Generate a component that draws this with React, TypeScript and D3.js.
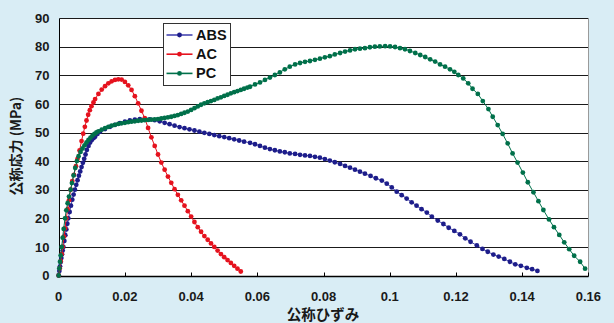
import React from 'react';
import * as d3 from 'd3';

// axis ticks
const xTicks = [0, 0.02, 0.04, 0.06, 0.08, 0.1, 0.12, 0.14, 0.16];
const yTicks = [0, 10, 20, 30, 40, 50, 60, 70, 80, 90];

const seriesNames = ['ABS', 'AC', 'PC'];

// [nominal strain, nominal stress (MPa)]
const absData: [number, number][] = [
  [0, 0], [0.0002, 1.6], [0.0004, 3.2], [0.0006, 4.7], [0.0008, 6.1], [0.001, 7.4], [0.0012, 8.7],
  [0.0014, 10], [0.0017, 12.1], [0.002, 14.1], [0.0023, 16.1], [0.0026, 18.1], [0.0029, 20],
  [0.0033, 22.2], [0.0037, 24.4], [0.0041, 26.5], [0.0045, 28.3], [0.0049, 30], [0.0053, 31.7],
  [0.0057, 33.3], [0.0061, 34.9], [0.0065, 36.4], [0.0069, 37.9], [0.0073, 39.4], [0.0077, 40.8],
  [0.0081, 42.3], [0.0085, 43.9], [0.009, 45.3], [0.0095, 46.5], [0.01, 47.4], [0.0105, 48],
  [0.011, 48.5], [0.0117, 49.5], [0.0125, 50.3], [0.014, 51.2], [0.0155, 52], [0.017, 52.7],
  [0.0185, 53.3], [0.02, 53.8], [0.0215, 54.2], [0.023, 54.5], [0.0245, 54.7], [0.026, 54.7],
  [0.0275, 54.6], [0.029, 54.3], [0.0305, 53.9], [0.032, 53.4], [0.0335, 52.9], [0.035, 52.4],
  [0.0365, 51.9], [0.038, 51.5], [0.0395, 51.1], [0.041, 50.7], [0.0425, 50.3], [0.044, 49.9],
  [0.0455, 49.5], [0.047, 49.1], [0.0485, 48.7], [0.05, 48.4], [0.0515, 48], [0.053, 47.6],
  [0.0545, 47.2], [0.056, 46.8], [0.0578, 46.4], [0.0593, 45.9], [0.0608, 45.3], [0.0623, 44.7],
  [0.0638, 44.2], [0.0653, 43.8], [0.0668, 43.4], [0.0683, 43.1], [0.0698, 42.7], [0.0714, 42.5],
  [0.0729, 42.2], [0.0744, 42], [0.0759, 41.8], [0.0774, 41.5], [0.0789, 41.2], [0.0804, 40.7],
  [0.0819, 40.2], [0.0834, 39.6], [0.085, 39], [0.0865, 38.3], [0.088, 37.7], [0.0895, 37],
  [0.091, 36.3], [0.0925, 35.6], [0.0942, 34.8], [0.0958, 34], [0.0976, 33.2], [0.0991, 32.1],
  [0.1006, 30.8], [0.1021, 29.3], [0.1036, 28.1], [0.1051, 26.9], [0.1066, 25.6], [0.1081, 24.4],
  [0.1096, 23.2], [0.1112, 22], [0.1127, 20.6], [0.1145, 19.2], [0.1162, 18], [0.1178, 16.7],
  [0.1195, 15.6], [0.1212, 14.4], [0.1228, 13], [0.1244, 11.8], [0.1263, 10.5], [0.128, 9.3],
  [0.1296, 8.3], [0.1313, 7.3], [0.1329, 6.6], [0.1346, 5.8], [0.1363, 4.8], [0.1379, 3.9],
  [0.1396, 3.4], [0.1414, 2.7], [0.143, 2.2], [0.1446, 1.6],
];

const acData: [number, number][] = [
  [0, 0], [0.0003, 2.5], [0.0006, 5], [0.0009, 7.5], [0.0012, 10], [0.0016, 13.6], [0.0019, 16.5],
  [0.0023, 20], [0.0027, 23.2], [0.0031, 26.3], [0.0036, 30], [0.0041, 33], [0.0046, 35.2],
  [0.0052, 38.2], [0.0057, 40.8], [0.0063, 43.7], [0.0069, 47], [0.0074, 49.6], [0.0079, 52],
  [0.0084, 54.2], [0.0089, 56.2], [0.0094, 57.8], [0.0099, 59.2], [0.0105, 60.5], [0.011, 61.7],
  [0.012, 63.5], [0.013, 65], [0.014, 66.2], [0.015, 67.2], [0.016, 67.9], [0.017, 68.4],
  [0.018, 68.6], [0.019, 68.5], [0.02, 67.7], [0.021, 66.5], [0.022, 64.9], [0.023, 62.7],
  [0.024, 60.2], [0.025, 57.6], [0.026, 55], [0.027, 51.6], [0.028, 48.3], [0.029, 45.3],
  [0.03, 42.3], [0.031, 39.5], [0.032, 37], [0.033, 34.6], [0.034, 32.4], [0.035, 30.2],
  [0.036, 28.2], [0.037, 26.3], [0.038, 24.4], [0.039, 22.5], [0.04, 20.6], [0.041, 18.7],
  [0.042, 16.9], [0.043, 15.3], [0.044, 13.8], [0.045, 12.5], [0.046, 11.2], [0.047, 10],
  [0.048, 8.7], [0.049, 7.5], [0.05, 6.4], [0.051, 5.4], [0.052, 4.4], [0.053, 3.4],
  [0.054, 2.4], [0.055, 1.4],
];

const pcData: [number, number][] = [
  [0, 0], [0.0002, 2.5], [0.0004, 4.8], [0.0006, 7], [0.0009, 10], [0.0012, 13.2], [0.0015, 16.3],
  [0.0019, 20], [0.0023, 22.8], [0.0027, 25.3], [0.0031, 27.6], [0.0036, 30], [0.004, 32.3],
  [0.0045, 35], [0.005, 37.6], [0.0055, 40], [0.006, 41.7], [0.0066, 43.2], [0.0072, 44.4],
  [0.0078, 45.5], [0.0084, 46.5], [0.009, 47.4], [0.0096, 48.2], [0.0102, 48.9], [0.0108, 49.5],
  [0.0114, 50], [0.012, 50.4], [0.013, 51], [0.014, 51.5], [0.015, 52], [0.016, 52.4],
  [0.017, 52.7], [0.018, 53], [0.019, 53.2], [0.02, 53.4], [0.021, 53.6], [0.022, 53.8],
  [0.023, 53.9], [0.024, 54.1], [0.025, 54.2], [0.026, 54.3], [0.027, 54.4], [0.028, 54.5],
  [0.029, 54.6], [0.03, 54.7], [0.031, 54.9], [0.032, 55.1], [0.033, 55.3], [0.034, 55.5],
  [0.035, 55.8], [0.036, 56.1], [0.037, 56.5], [0.038, 56.9], [0.039, 57.3], [0.04, 57.9],
  [0.041, 58.5], [0.042, 59.1], [0.043, 59.7], [0.044, 60.2], [0.045, 60.6], [0.046, 61],
  [0.047, 61.4], [0.048, 61.9], [0.049, 62.3], [0.05, 62.8], [0.051, 63.2], [0.052, 63.7],
  [0.053, 64.1], [0.054, 64.5], [0.055, 64.9], [0.056, 65.3], [0.057, 65.7], [0.0578, 66],
  [0.0593, 66.8], [0.0608, 67.5], [0.0623, 68.4], [0.0638, 69.2], [0.0653, 70.1], [0.0668, 71],
  [0.0683, 72.1], [0.0698, 73], [0.0714, 73.8], [0.0729, 74.3], [0.0744, 74.7], [0.0759, 75],
  [0.0774, 75.4], [0.0789, 75.8], [0.0804, 76.3], [0.0819, 76.7], [0.0834, 77.3], [0.085, 77.8],
  [0.0865, 78.3], [0.088, 78.7], [0.0895, 79.1], [0.091, 79.3], [0.0925, 79.5], [0.094, 79.8],
  [0.0955, 80], [0.097, 80.1], [0.0986, 80.2], [0.1001, 80.1], [0.1016, 79.9], [0.1031, 79.5],
  [0.1046, 79.1], [0.1061, 78.5], [0.1077, 77.8], [0.1092, 77.1], [0.1107, 76.4], [0.1122, 75.6],
  [0.1137, 74.8], [0.1152, 73.8], [0.1167, 73], [0.1182, 72.1], [0.1195, 71.2], [0.1207, 70.1],
  [0.1222, 68.9], [0.1237, 67.2], [0.125, 65.3], [0.1266, 63.5], [0.1281, 61], [0.1298, 58.2],
  [0.1311, 55.5], [0.1326, 52.6], [0.1341, 49.5], [0.1356, 46.2], [0.1371, 42.7], [0.1386, 39.5],
  [0.1402, 36], [0.1417, 32.6], [0.1434, 29.1], [0.1449, 26], [0.1464, 22.9], [0.1481, 19.6],
  [0.1496, 16.9], [0.1512, 14.2], [0.1527, 11.6], [0.1542, 9.2], [0.1557, 6.9], [0.1575, 4.8],
  [0.159, 2.4],
];

const markerColors = ['#1d1d8a', '#e5121e', '#00704a'];
const lineColors = ['#4646b0', '#e5121e', '#00704a'];

const W = 614;
const H = 323;
const plot = { left: 58.7, right: 588.4, top: 18.1, bottom: 275.5 };
const numFont = '"Liberation Sans", Arial, sans-serif';
const jpFont = '"Noto Sans CJK JP", "Liberation Sans", sans-serif';

const App = () => {
  const x = d3.scaleLinear().domain([0, 0.16]).range([plot.left, plot.right]);
  const y = d3.scaleLinear().domain([0, 90]).range([plot.bottom, plot.top]);
  const crisp = (v: number) => Math.round(v) + 0.5;

  const series = [absData, acData, pcData].map((data, i) => ({
    name: seriesNames[i],
    data,
    marker: markerColors[i],
    line: lineColors[i],
  }));

  const lineGen = d3.line<[number, number]>()
    .x(d => x(d[0]))
    .y(d => y(d[1]));

  const x0 = crisp(x(0));
  const x1 = crisp(x(0.16));
  const yb = crisp(y(0));
  const yt = crisp(y(90));

  return (
    <div style={{ position: 'absolute', left: 0, top: 0 }}>
      <svg width={W} height={H} style={{ display: 'block' }}>
        <rect x={0} y={0} width={W} height={H} fill="#d9edf5" />
        <rect x={x0} y={yt} width={x1 - x0} height={yb - yt} fill="#ffffff" />

        {/* gridlines */}
        {yTicks.filter(t => t > 0).map(t => (
          <line key={t} x1={x0} x2={x1} y1={crisp(y(t))} y2={crisp(y(t))} stroke="#1a1a1a" strokeWidth={1} />
        ))}
        <line x1={x1} x2={x1} y1={yt} y2={yb} stroke="#9a9a9a" strokeWidth={1} />

        {/* axes */}
        <line x1={x0} x2={x0} y1={yt} y2={yb} stroke="#000" strokeWidth={1} />
        <line x1={x0} x2={x1} y1={yb} y2={yb} stroke="#000" strokeWidth={1.3} />
        {xTicks.map(t => (
          <line key={t} x1={crisp(x(t))} x2={crisp(x(t))} y1={yb} y2={yb - 4} stroke="#000" strokeWidth={1} />
        ))}

        {/* tick labels */}
        {yTicks.map(t => (
          <text key={t} x={49.5} y={y(t) + 4.6} textAnchor="end" fontFamily={numFont} fontWeight="bold"
            fontSize={13} fill="#1a1a1a">{t}</text>
        ))}
        {xTicks.map(t => (
          <text key={t} x={x(t)} y={301} textAnchor="middle" fontFamily={numFont} fontWeight="bold"
            fontSize={13} fill="#1a1a1a">{d3.format('~g')(t)}</text>
        ))}

        {/* axis titles */}
        <text x={323} y={320} textAnchor="middle" fontFamily={jpFont} fontWeight="bold" fontSize={14.5}
          fill="#1a1a1a">公称ひずみ</text>
        <text transform={`translate(21,146) rotate(-90)`} textAnchor="middle" fontFamily={jpFont}
          fontWeight="bold" fontSize={14} fill="#1a1a1a">公称応力 (MPa)</text>

        {/* series */}
        {series.map(s => (
          <g key={s.name}>
            <path d={lineGen(s.data) || ''} fill="none" stroke={s.line} strokeWidth={1} />
            {s.data.map((d, j) => (
              <circle key={j} cx={x(d[0])} cy={y(d[1])} r={2.4} fill={s.marker} />
            ))}
          </g>
        ))}

        {/* legend */}
        <rect x={163.5} y={23.5} width={67} height={62} fill="#ffffff" stroke="#333" strokeWidth={1} />
        {series.map((s, i) => {
          const ly = 35 + i * 19.2;
          return (
            <g key={s.name}>
              <line x1={166.5} x2={192.5} y1={ly} y2={ly} stroke={s.line} strokeWidth={1.6} />
              <circle cx={179.5} cy={ly} r={2.4} fill={s.marker} />
              <text x={196} y={ly + 5} fontFamily={numFont} fontWeight="bold" fontSize={14.5}
                fill="#111">{s.name}</text>
            </g>
          );
        })}
      </svg>
    </div>
  );
};

export default App;
